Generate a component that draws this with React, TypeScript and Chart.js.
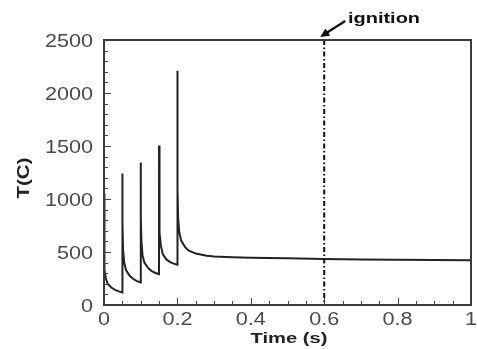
import React, { useEffect, useRef } from "react";
import { Chart, registerables } from "chart.js";

Chart.register(...registerables);

const timeValues: number[] = [
  0, 0.0005, 0.002, 0.005, 0.01, 0.02, 0.03, 0.04, 0.0498,
  0.05, 0.0505, 0.052, 0.055, 0.06, 0.07, 0.08, 0.09, 0.0998,
  0.1, 0.1005, 0.102, 0.105, 0.11, 0.12, 0.13, 0.14, 0.1498,
  0.15, 0.1505, 0.152, 0.155, 0.16, 0.17, 0.18, 0.19, 0.1998,
  0.2, 0.2005, 0.202, 0.205, 0.21, 0.22, 0.23, 0.25, 0.28, 0.3, 0.35, 0.4, 0.5, 0.6, 0.7, 0.8, 0.9, 1.0,
];
const tempValues: number[] = [
  1050, 450, 330, 250, 200, 165, 143, 128, 118,
  1240, 760, 520, 400, 330, 275, 245, 225, 212,
  1345, 820, 600, 470, 400, 350, 320, 302, 292,
  1505, 900, 680, 560, 480, 430, 405, 390, 380,
  2210, 1100, 820, 690, 610, 550, 515, 485, 465, 457, 450, 446, 440, 434, 430, 427, 425, 423,
];
const ignitionTime = 0.6;
const ignitionLabel = "ignition";
const xTickValues: number[] = [0, 0.2, 0.4, 0.6, 0.8, 1];
const xTickLabels: string[] = ["0", "0.2", "0.4", "0.6", "0.8", "1"];
const yTickValues: number[] = [0, 500, 1000, 1500, 2000, 2500];
const yTickLabels: string[] = ["0", "500", "1000", "1500", "2000", "2500"];
const xTitle = "Time (s)";
const yTitle = "T(C)";

const FONT = "'Liberation Sans', Arial, sans-serif";

function stretchedText(
  ctx: CanvasRenderingContext2D,
  text: string,
  x: number,
  y: number,
  font: string,
  sx: number,
  align: CanvasTextAlign,
  baseline: CanvasTextBaseline,
  rotate = 0
) {
  ctx.save();
  ctx.font = font;
  ctx.textAlign = align;
  ctx.textBaseline = baseline;
  ctx.translate(x, y);
  if (rotate) ctx.rotate(rotate);
  ctx.scale(sx, 1);
  ctx.fillText(text, 0, 0);
  ctx.restore();
}

function fitScale(ctx: CanvasRenderingContext2D, text: string, font: string, target: number) {
  ctx.save();
  ctx.font = font;
  const w = ctx.measureText(text).width;
  ctx.restore();
  return target / w;
}

const framePlugin = {
  id: "frame",
  afterDatasetsDraw(chart: any) {
    const { ctx, chartArea: a, scales } = chart;
    const xs = scales.x;
    const ys = scales.y;
    ctx.save();
    // ignition dash-dot line
    const ix = xs.getPixelForValue(ignitionTime);
    ctx.strokeStyle = "#111";
    ctx.lineWidth = 2;
    ctx.setLineDash([5, 2.5, 1.5, 2.5]);
    ctx.beginPath();
    ctx.moveTo(ix, a.top);
    ctx.lineTo(ix, a.bottom);
    ctx.stroke();
    ctx.setLineDash([]);
    // ticks
    ctx.strokeStyle = "#444";
    ctx.lineWidth = 1;
    for (let v = 0; v <= 1.0001; v += 0.05) {
      const major = Math.abs(v / 0.2 - Math.round(v / 0.2)) < 1e-6;
      const px = Math.round(xs.getPixelForValue(v)) + 0.5;
      ctx.beginPath();
      ctx.moveTo(px, a.bottom);
      ctx.lineTo(px, a.bottom - (major ? 7 : 4));
      ctx.stroke();
    }
    for (let v = 0; v <= 2500; v += 100) {
      const major = v % 500 === 0;
      const py = Math.round(ys.getPixelForValue(v)) + 0.5;
      ctx.beginPath();
      ctx.moveTo(a.left, py);
      ctx.lineTo(a.left + (major ? 7 : 4), py);
      ctx.stroke();
    }
    // frame
    ctx.strokeStyle = "#3a3a3a";
    ctx.lineWidth = 2;
    ctx.strokeRect(a.left, a.top, a.right - a.left, a.bottom - a.top);

    // tick labels
    ctx.fillStyle = "#4a4a4a";
    const tickFont = `18px ${FONT}`;
    xTickValues.forEach((v, i) => {
      stretchedText(ctx, xTickLabels[i], xs.getPixelForValue(v), a.bottom + 20, tickFont, 1.2, "center", "alphabetic");
    });
    yTickValues.forEach((v, i) => {
      stretchedText(ctx, yTickLabels[i], a.left - 11, ys.getPixelForValue(v) + 6.5, tickFont, 1.2, "right", "alphabetic");
    });

    // axis titles
    ctx.fillStyle = "#222";
    const xtFont = `bold 15px ${FONT}`;
    stretchedText(ctx, xTitle, 289, 343, xtFont, fitScale(ctx, xTitle, xtFont, 77), "center", "alphabetic");
    const ytFont = `bold 16px ${FONT}`;
    stretchedText(ctx, yTitle, 25, 178, ytFont, fitScale(ctx, yTitle, ytFont, 41), "center", "middle", -Math.PI / 2);

    // annotation
    ctx.fillStyle = "#111";
    const anFont = `bold 15px ${FONT}`;
    stretchedText(ctx, ignitionLabel, 348, 23, anFont, fitScale(ctx, ignitionLabel, anFont, 72), "left", "alphabetic");
    // arrow
    const tipX = ix - 4;
    const tipY = a.top - 3;
    const tailX = ix + 21;
    const tailY = a.top - 19;
    const ang = Math.atan2(tipY - tailY, tipX - tailX);
    ctx.strokeStyle = "#111";
    ctx.lineWidth = 2.2;
    ctx.beginPath();
    ctx.moveTo(tailX, tailY);
    ctx.lineTo(tipX - 6 * Math.cos(ang), tipY - 6 * Math.sin(ang));
    ctx.stroke();
    ctx.beginPath();
    ctx.moveTo(tipX, tipY);
    ctx.lineTo(tipX - 10 * Math.cos(ang - 0.45), tipY - 10 * Math.sin(ang - 0.45));
    ctx.lineTo(tipX - 10 * Math.cos(ang + 0.45), tipY - 10 * Math.sin(ang + 0.45));
    ctx.closePath();
    ctx.fill();
    ctx.restore();
  },
};

export default function App() {
  const ref = useRef<HTMLCanvasElement>(null);
  useEffect(() => {
    if (!ref.current) return;
    const data = timeValues.map((t, i) => ({ x: t, y: tempValues[i] }));
    const chart = new Chart(ref.current, {
      type: "line",
      data: {
        datasets: [
          {
            data,
            borderColor: "#222",
            borderWidth: 2,
            pointRadius: 0,
            tension: 0,
            fill: false,
          },
        ],
      },
      options: {
        animation: false,
        responsive: false,
        maintainAspectRatio: false,
        layout: { padding: { top: 40, right: 6, left: 0, bottom: 0 } },
        plugins: { legend: { display: false }, tooltip: { enabled: false } },
        scales: {
          x: {
            type: "linear",
            min: 0,
            max: 1,
            grid: { display: false },
            border: { display: false },
            ticks: { display: false },
            afterFit: (s: any) => {
              s.height = 44;
            },
          },
          y: {
            min: 0,
            max: 2500,
            grid: { display: false },
            border: { display: false },
            ticks: { display: false },
            afterFit: (s: any) => {
              s.width = 104;
            },
          },
        },
      },
      plugins: [framePlugin],
    });
    return () => chart.destroy();
  }, []);
  return (
    <div style={{ position: "fixed", left: 0, top: 0, width: 477, height: 349, background: "#fff" }}>
      <canvas ref={ref} width={477} height={349} style={{ width: 477, height: 349 }} />
    </div>
  );
}
